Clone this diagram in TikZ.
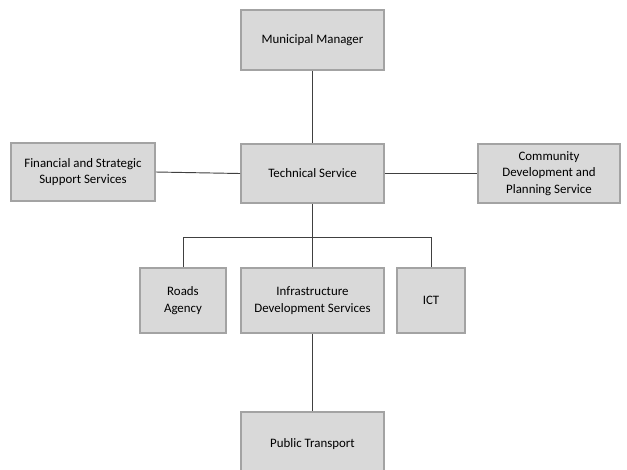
\documentclass[tikz,border=0pt]{standalone}
\usepackage{fontspec}
\setmainfont{Carlito}
\definecolor{boxfill}{HTML}{D9D9D9}
\definecolor{boxdraw}{HTML}{A3A3A3}
\definecolor{linkcol}{HTML}{404040}
\begin{document}
\begin{tikzpicture}[x=0.03cm,y=-0.03cm,
  orgbox/.style={draw=boxdraw,fill=boxfill,line width=1.6pt,rectangle,inner sep=2pt,
    align=center,font=\fontsize{11}{14}\selectfont,text=black},
  link/.style={draw=linkcol,line width=0.8pt}]
\useasboundingbox[fill=white] (0,0) rectangle (627,469);
\begin{scope}
\clip (0,0) rectangle (627,469);
\node[orgbox,minimum width=143*0.03cm,minimum height=60*0.03cm] (mm) at (312.5,40) {Municipal Manager};
\node[orgbox,minimum width=143*0.03cm,minimum height=59*0.03cm] (ts) at (312.5,173.5) {Technical Service};
\node[orgbox,minimum width=144*0.03cm,minimum height=58*0.03cm] (fs) at (83,172) {Financial and Strategic\\Support Services};
\node[orgbox,minimum width=142*0.03cm,minimum height=59*0.03cm] (cd) at (549,173.5) {Community\\Development and\\Planning Service};
\node[orgbox,minimum width=86*0.03cm,minimum height=65*0.03cm] (ra) at (183,300.5) {Roads\\Agency};
\node[orgbox,minimum width=143*0.03cm,minimum height=65*0.03cm] (id) at (312.5,300.5) {Infrastructure\\Development Services};
\node[orgbox,minimum width=68*0.03cm,minimum height=65*0.03cm] (ict) at (431,300.5) {ICT};
\node[orgbox,minimum width=143*0.03cm,minimum height=64*0.03cm] (pt) at (312.5,444) {Public Transport};
\coordinate (busL) at (183,237);
\coordinate (busR) at (431,237);
\draw[link] (mm.south) -- (ts.north);
\draw[link] (fs.east) -- (ts.west);
\draw[link] (ts.east) -- (cd.west);
\draw[link] (ts.south) -- (id.north);
\draw[link] (ra.north) -- (busL) -- (busR) -- (ict.north);
\draw[link] (id.south) -- (pt.north);
\end{scope}
\end{tikzpicture}
\end{document}
